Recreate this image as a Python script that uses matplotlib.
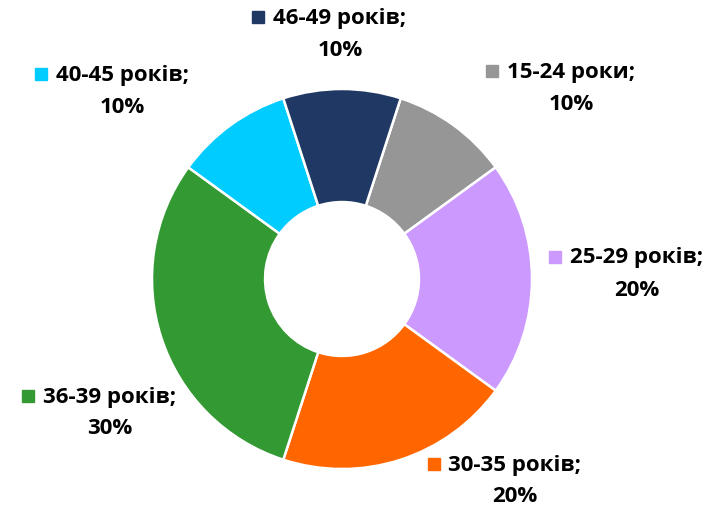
import matplotlib.pyplot as plt

# data
categories = ["15-24 роки", "25-29 років", "30-35 років", "36-39 років", "40-45 років", "46-49 років"]
shares = [10, 20, 20, 30, 10, 10]
colors = ["#969696", "#CC99FF", "#FF6600", "#339933", "#00CCFF", "#203864"]

# label block offsets from the pie centre, in pixels (x right, y down)
label_offsets = [(229, -191), (295, -5), (173, 202), (-232, 134), (-220, -188), (-2, -245)]

W, H = 724, 509
cx, cy = 342, 279
R = 190

fig = plt.figure(figsize=(W / 100, H / 100), dpi=100)
ax = fig.add_axes([0, 0, 1, 1])

wedges, _ = ax.pie(shares, colors=colors, radius=R, center=(cx, H - cy),
                   startangle=72, counterclock=False, frame=True,
                   wedgeprops=dict(width=R * 0.595, edgecolor="white", linewidth=1.8))

ax.set_xlim(0, W)
ax.set_ylim(0, H)
ax.set_aspect("equal")
ax.axis("off")

font = dict(family="Open Sans", weight="bold", size=16, color="black")

line1_texts = []
for cat, val, col, (dx, dy) in zip(categories, shares, colors, label_offsets):
    x = cx + dx
    y = H - (cy + dy)
    t1 = ax.text(x, y + 16, f"{cat};", ha="center", va="center", **font)
    ax.text(x, y - 16, f"{val}%", ha="center", va="center", **font)
    line1_texts.append((t1, col, y + 16))

fig.canvas.draw()
renderer = fig.canvas.get_renderer()
for t1, col, y in line1_texts:
    bb = t1.get_window_extent(renderer)
    ax.plot(bb.x0 - 15, y + 1, marker="s", markersize=9, color=col, linestyle="none")

fig.savefig("out.png", dpi=100)
